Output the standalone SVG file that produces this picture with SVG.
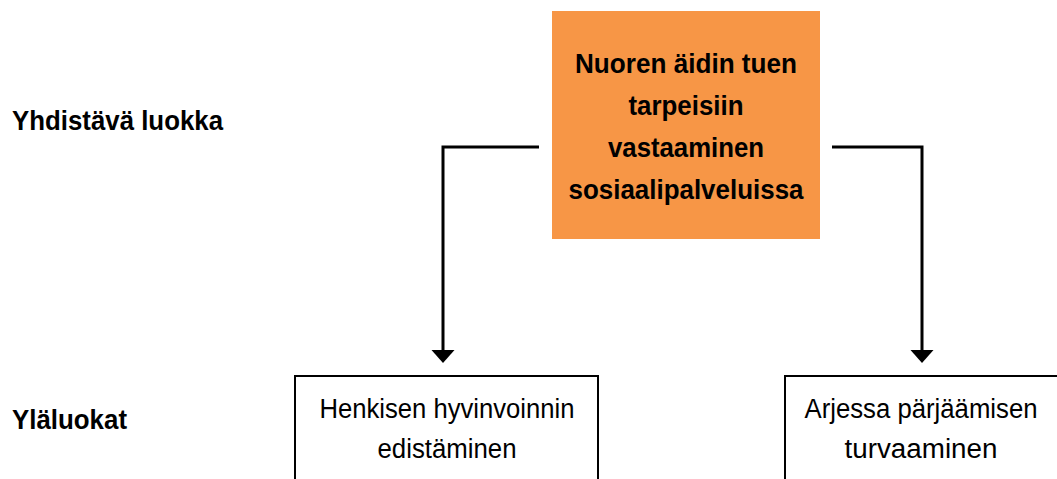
<svg xmlns="http://www.w3.org/2000/svg" width="1057" height="479" viewBox="0 0 1057 479">
  <defs>
    <marker id="arrow" markerUnits="userSpaceOnUse" markerWidth="14" markerHeight="24" viewBox="0 0 14 24" refX="0" refY="12" orient="auto">
      <path d="M0,0.5 L13,12 L0,23.5 z" fill="#000"/>
    </marker>
  </defs>
  <style>
    .lbl { font-family: "Liberation Sans", Arial, sans-serif; font-weight: bold; font-size: 28px; fill: #000; }
    .main { font-family: "Liberation Sans", Arial, sans-serif; font-weight: bold; font-size: 28px; fill: #000; text-anchor: middle; }
    .sub { font-family: "Liberation Sans", Arial, sans-serif; font-size: 27px; fill: #000; text-anchor: middle; }
    .box { fill: #fff; stroke: #000; stroke-width: 2; }
    .conn { fill: none; stroke: #000; stroke-width: 3; }
  </style>
  <rect width="1057" height="479" fill="#fff"/>

  <g id="label-yhdistava">
    <text class="lbl" x="12" y="130" textLength="211" lengthAdjust="spacingAndGlyphs">Yhdistävä luokka</text>
  </g>
  <g id="label-ylaluokat">
    <text class="lbl" x="12" y="429" textLength="115" lengthAdjust="spacingAndGlyphs">Yläluokat</text>
  </g>

  <g id="node-main">
    <rect x="552" y="11" width="268" height="228" fill="#F79646"/>
    <text class="main" x="686" y="73" textLength="222" lengthAdjust="spacingAndGlyphs">Nuoren äidin tuen</text>
    <text class="main" x="686" y="115" textLength="115" lengthAdjust="spacingAndGlyphs">tarpeisiin</text>
    <text class="main" x="686" y="157" textLength="156" lengthAdjust="spacingAndGlyphs">vastaaminen</text>
    <text class="main" x="686" y="199" textLength="235" lengthAdjust="spacingAndGlyphs">sosiaalipalveluissa</text>
  </g>

  <g id="connectors">
    <path class="conn" d="M539,147 H443 V350" marker-end="url(#arrow)"/>
    <path class="conn" d="M832,147 H922 V350" marker-end="url(#arrow)"/>
  </g>

  <g id="node-henkinen">
    <rect class="box" x="295" y="376" width="303" height="120"/>
    <text class="sub" x="447" y="418" textLength="255" lengthAdjust="spacingAndGlyphs">Henkisen hyvinvoinnin</text>
    <text class="sub" x="447" y="458" textLength="139" lengthAdjust="spacingAndGlyphs">edistäminen</text>
  </g>

  <g id="node-arki">
    <rect class="box" x="785" y="376" width="303" height="120"/>
    <text class="sub" x="921" y="418" textLength="233" lengthAdjust="spacingAndGlyphs">Arjessa pärjäämisen</text>
    <text class="sub" x="921" y="458" textLength="153" lengthAdjust="spacingAndGlyphs">turvaaminen</text>
  </g>
</svg>
